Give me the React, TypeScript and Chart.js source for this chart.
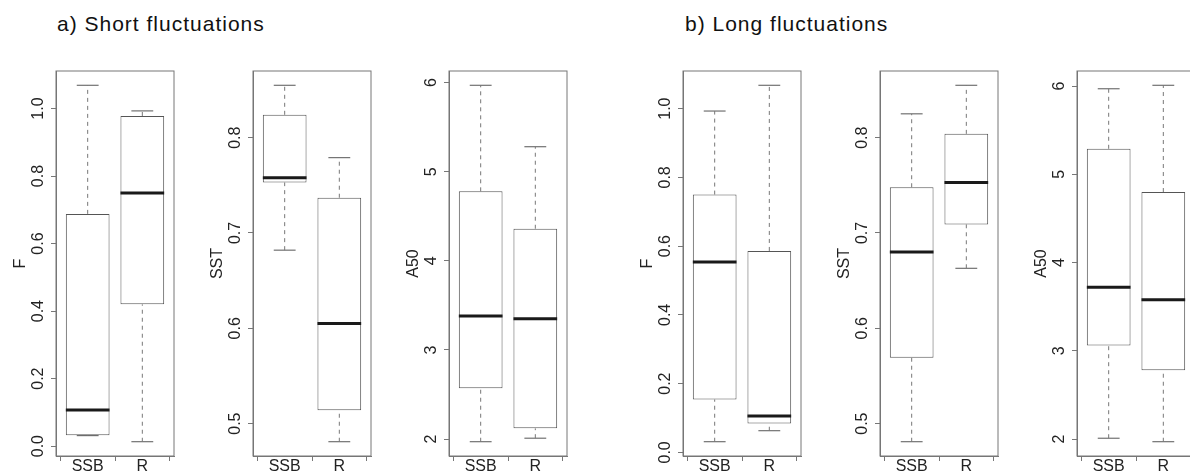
import React, { useEffect, useRef } from 'react';
import { Chart, registerables } from 'chart.js';

Chart.register(...registerables);

// ---- data ----
const categories = ['SSB', 'R'];
// five-number summaries: [lower whisker, Q1, median, Q3, upper whisker]
const shortF_SSB = [0.031, 0.032, 0.107, 0.688, 1.069];
const shortF_R = [0.013, 0.42, 0.75, 0.978, 0.993];
const shortSST_SSB = [0.682, 0.753, 0.758, 0.824, 0.855];
const shortSST_R = [0.481, 0.514, 0.605, 0.737, 0.779];
const shortA50_SSB = [1.97, 2.57, 3.38, 4.78, 5.97];
const shortA50_R = [2.01, 2.12, 3.35, 4.36, 5.28];
const longF_SSB = [0.031, 0.154, 0.554, 0.75, 0.993];
const longF_R = [0.063, 0.084, 0.106, 0.586, 1.068];
const longSST_SSB = [0.481, 0.569, 0.68, 0.748, 0.825];
const longSST_R = [0.663, 0.709, 0.753, 0.804, 0.855];
const longA50_SSB = [2.01, 3.06, 3.72, 5.29, 5.97];
const longA50_R = [1.97, 2.78, 3.58, 4.8, 6.01];

const ticksF = [0, 0.2, 0.4, 0.6, 0.8, 1.0];
const ticksSST = [0.5, 0.6, 0.7, 0.8];
const ticksA50 = [2, 3, 4, 5, 6];
const yTitles = ['F', 'SST', 'A50'];
const groupTitles = ['a) Short fluctuations', 'b) Long fluctuations'];

// ---- styling / layout ----
const FONT = '"Liberation Sans", Arial, Helvetica, sans-serif';
const FRAME = '#777777';
const BOX = '#555555';
const WHISK = '#777777';
const MED = '#1a1a1a';
const TEXT = '#222222';
const AXIS_W = 50;
const PLOT_W = 118;
const PAD_R = 6;
const CANVAS_H = 475;
const PLOT_TOP = 71;
const PLOT_BOTTOM = 456;
const TICK_LEN = 5;
const LABEL_DIST = 17.5;
const TITLE_DIST = 35;

const framePlugin = {
  id: 'frame',
  afterDatasetsDraw(chart: any) {
    const { ctx, chartArea } = chart;
    ctx.save();
    ctx.strokeStyle = FRAME;
    ctx.lineWidth = 1;
    ctx.strokeRect(chartArea.left, chartArea.top, chartArea.right - chartArea.left, chartArea.bottom - chartArea.top);
    ctx.restore();
  },
};

type PanelProps = {
  stats: number[][];
  ticks: number[];
  decimals: number;
  yTitle: string;
  frameLeft: number;
};

function BoxPanel({ stats, ticks, decimals, yTitle, frameLeft }: PanelProps) {
  const ref = useRef<HTMLCanvasElement | null>(null);

  useEffect(() => {
    const canvas = ref.current!;
    const positions = categories.map((_, i) => i + 1);
    const all = stats.flat();
    const lo = Math.min(...all);
    const hi = Math.max(...all);
    const ext = (hi - lo) * 0.04;
    const boxHalf = 0.4;
    const capHalf = 0.2;

    const boxData = stats.map((s, i) => ({ x: positions[i], y: [s[1], s[3]] }));
    const medianData: any[] = [];
    const whiskerData: any[] = [];
    const capData: any[] = [];
    stats.forEach((s, i) => {
      const p = positions[i];
      medianData.push({ x: p - boxHalf, y: s[2] }, { x: p + boxHalf, y: s[2] }, { x: p + 0.45, y: null });
      whiskerData.push({ x: p, y: s[3] }, { x: p, y: s[4] }, { x: p, y: null });
      whiskerData.push({ x: p, y: s[0] }, { x: p, y: s[1] }, { x: p, y: null });
      capData.push({ x: p - capHalf, y: s[4] }, { x: p + capHalf, y: s[4] }, { x: p + 0.3, y: null });
      capData.push({ x: p - capHalf, y: s[0] }, { x: p + capHalf, y: s[0] }, { x: p + 0.3, y: null });
    });

    const labels = ticks.map((v) => v.toFixed(decimals));
    const mctx = canvas.getContext('2d')!;
    mctx.font = `16px ${FONT}`;
    const widest = Math.max(...labels.map((l) => mctx.measureText(l).width));
    const yPad = LABEL_DIST - TICK_LEN - widest / 2;

    const chart = new Chart(canvas, {
      type: 'bar',
      data: {
        datasets: [
          {
            type: 'bar',
            data: boxData as any,
            backgroundColor: '#ffffff',
            borderColor: BOX,
            borderWidth: 1,
            borderSkipped: false,
            barPercentage: 0.8,
            categoryPercentage: 1,
            order: 3,
          } as any,
          {
            type: 'line',
            data: whiskerData,
            borderColor: WHISK,
            borderWidth: 1,
            borderDash: [4, 4],
            pointRadius: 0,
            spanGaps: false,
            order: 2,
          } as any,
          {
            type: 'line',
            data: capData,
            borderColor: BOX,
            borderWidth: 1,
            pointRadius: 0,
            spanGaps: false,
            order: 2,
          } as any,
          {
            type: 'line',
            data: medianData,
            borderColor: MED,
            borderWidth: 3,
            borderCapStyle: 'butt',
            pointRadius: 0,
            spanGaps: false,
            order: 1,
          } as any,
        ],
      },
      options: {
        responsive: false,
        animation: false,
        devicePixelRatio: 1,
        events: [],
        layout: { padding: { top: PLOT_TOP, right: PAD_R, left: 0, bottom: 0 } },
        plugins: { legend: { display: false }, tooltip: { enabled: false } },
        scales: {
          x: {
            type: 'linear',
            min: 0.42,
            max: 2.58,
            offset: false,
            grid: { display: true, drawOnChartArea: false, drawTicks: true, tickLength: TICK_LEN, color: FRAME },
            border: { display: true, color: FRAME },
            ticks: {
              autoSkip: false,
              maxRotation: 0,
              padding: -4,
              color: TEXT,
              font: { family: FONT, size: 16 },
              callback: (v: any) => categories[Number(v) - 1] ?? '',
            },
            afterBuildTicks: (s: any) => {
              s.ticks = positions.map((v) => ({ value: v }));
            },
            afterFit: (s: any) => {
              s.height = CANVAS_H - PLOT_BOTTOM;
            },
          },
          y: {
            type: 'linear',
            min: lo - ext,
            max: hi + ext,
            grid: { display: true, drawOnChartArea: false, drawTicks: true, tickLength: TICK_LEN, color: FRAME },
            border: { display: true, color: FRAME },
            ticks: {
              autoSkip: false,
              minRotation: 90,
              maxRotation: 90,
              crossAlign: 'center',
              padding: yPad,
              color: TEXT,
              font: { family: FONT, size: 16 },
              callback: (v: any) => Number(v).toFixed(decimals),
            },
            afterBuildTicks: (s: any) => {
              s.ticks = ticks.map((v) => ({ value: v }));
            },
            afterFit: (s: any) => {
              s.width = AXIS_W;
            },
            title: {
              display: true,
              text: yTitle,
              color: TEXT,
              font: { family: FONT, size: 16 },
              padding: { top: AXIS_W - TITLE_DIST - 9.6, bottom: 0 },
            },
          },
        },
      } as any,
      plugins: [framePlugin],
    });
    return () => chart.destroy();
  }, [stats, ticks, decimals, yTitle]);

  const w = AXIS_W + PLOT_W + PAD_R;
  return (
    <canvas
      ref={ref}
      width={w}
      height={CANVAS_H}
      style={{ position: 'absolute', left: frameLeft - AXIS_W, top: 0, width: w, height: CANVAS_H }}
    />
  );
}

const panels: PanelProps[] = [
  { stats: [shortF_SSB, shortF_R], ticks: ticksF, decimals: 1, yTitle: yTitles[0], frameLeft: 56 },
  { stats: [shortSST_SSB, shortSST_R], ticks: ticksSST, decimals: 1, yTitle: yTitles[1], frameLeft: 253 },
  { stats: [shortA50_SSB, shortA50_R], ticks: ticksA50, decimals: 0, yTitle: yTitles[2], frameLeft: 449 },
  { stats: [longF_SSB, longF_R], ticks: ticksF, decimals: 1, yTitle: yTitles[0], frameLeft: 683 },
  { stats: [longSST_SSB, longSST_R], ticks: ticksSST, decimals: 1, yTitle: yTitles[1], frameLeft: 880 },
  { stats: [longA50_SSB, longA50_R], ticks: ticksA50, decimals: 0, yTitle: yTitles[2], frameLeft: 1077 },
];

const titleStyle = (left: number): React.CSSProperties => ({
  position: 'absolute',
  left,
  top: 13,
  fontFamily: FONT,
  fontSize: 21,
  lineHeight: '21px',
  letterSpacing: '1px',
  color: '#111111',
  whiteSpace: 'nowrap',
});

export default function App() {
  return (
    <div
      style={{
        position: 'absolute',
        left: 0,
        top: 0,
        width: 1190,
        height: 475,
        overflow: 'hidden',
        background: '#ffffff',
      }}
    >
      <div style={titleStyle(57)}>{groupTitles[0]}</div>
      <div style={titleStyle(685)}>{groupTitles[1]}</div>
      {panels.map((p, i) => (
        <BoxPanel key={i} {...p} />
      ))}
    </div>
  );
}
